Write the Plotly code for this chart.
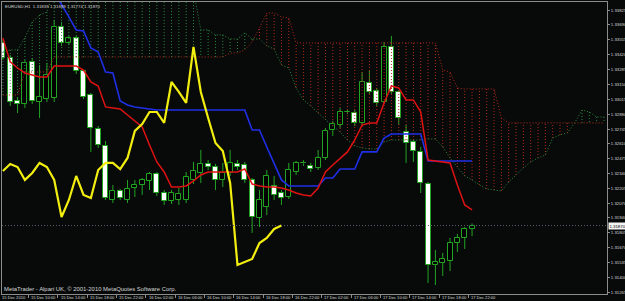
import plotly.graph_objects as go

# ---------------- data (EURUSD H1) ----------------
opens = [1.33526, 1.33390, 1.33000, 1.32973, 1.33354, 1.32991, 1.33018, 1.33027, 1.33671, 1.33526,
         1.33571, 1.33272, 1.33054, 1.32746, 1.32592, 1.32102, 1.32184, 1.32102, 1.32211, 1.32238,
         1.32275, 1.32338, 1.32166, 1.32093, 1.32102, 1.32102, 1.32284, 1.32347, 1.32429, 1.32401,
         1.32284, 1.32347, 1.32429, 1.32420, 1.32284, 1.31939, 1.32039, 1.32229, 1.32166, 1.32129,
         1.32356, 1.32434, 1.32411, 1.32392, 1.32483, 1.32737, 1.32782, 1.32896, 1.32891, 1.32801,
         1.33163, 1.33091, 1.32991, 1.33490, 1.33082, 1.32719, 1.32628, 1.32538, 1.32247, 1.31513,
         1.31531, 1.31549, 1.31712, 1.31758, 1.31839]
highs = [1.33553, 1.33417, 1.33036, 1.33372, 1.33390, 1.33327, 1.33345, 1.33734, 1.33716, 1.33590,
         1.33590, 1.33281, 1.33073, 1.32773, 1.32637, 1.32238, 1.32202, 1.32284, 1.32284, 1.32302,
         1.32356, 1.32356, 1.32193, 1.32193, 1.32211, 1.32356, 1.32447, 1.32556, 1.32465, 1.32429,
         1.32438, 1.32556, 1.32465, 1.32447, 1.32302, 1.32193, 1.32374, 1.32320, 1.32193, 1.32438,
         1.32456, 1.32465, 1.32438, 1.32556, 1.32755, 1.32819, 1.32937, 1.32918, 1.32918, 1.33263,
         1.33281, 1.33118, 1.33535, 1.33590, 1.33100, 1.32782, 1.32646, 1.32583, 1.32265, 1.31649,
         1.31622, 1.31758, 1.31794, 1.31857, 1.31889]
lows = [1.33372, 1.32955, 1.32891, 1.32937, 1.32973, 1.32846, 1.32991, 1.32991, 1.33499, 1.33508,
        1.33245, 1.33018, 1.32538, 1.32574, 1.32102, 1.32075, 1.32102, 1.32075, 1.32129, 1.32148,
        1.32193, 1.32138, 1.32057, 1.32066, 1.32057, 1.32075, 1.32247, 1.32256, 1.32374, 1.32193,
        1.32220, 1.32320, 1.32374, 1.32256, 1.31803, 1.31857, 1.31966, 1.32102, 1.32057, 1.32111,
        1.32329, 1.32411, 1.32356, 1.32374, 1.32465, 1.32683, 1.32755, 1.32882, 1.32773, 1.32782,
        1.33064, 1.32955, 1.32973, 1.33064, 1.32782, 1.32438, 1.32447, 1.32166, 1.31349, 1.31331,
        1.31413, 1.31458, 1.31631, 1.31658, 1.31774]
closes = [1.33390, 1.32991, 1.32973, 1.33345, 1.33000, 1.33036, 1.33236, 1.33671, 1.33526, 1.33571,
          1.33272, 1.33036, 1.32755, 1.32601, 1.32120, 1.32184, 1.32120, 1.32202, 1.32238, 1.32284,
          1.32338, 1.32166, 1.32093, 1.32166, 1.32157, 1.32311, 1.32365, 1.32429, 1.32401, 1.32284,
          1.32347, 1.32438, 1.32401, 1.32284, 1.31948, 1.32102, 1.32320, 1.32148, 1.32120, 1.32374,
          1.32438, 1.32438, 1.32383, 1.32483, 1.32728, 1.32791, 1.32900, 1.32900, 1.32801, 1.33172,
          1.33082, 1.32982, 1.33490, 1.33082, 1.32846, 1.32619, 1.32547, 1.32256, 1.31513, 1.31540,
          1.31567, 1.31712, 1.31758, 1.31839, 1.31870]

tenkan = [1.33571, 1.33354, 1.33299, 1.33254, 1.33236, 1.33218, 1.33218, 1.33317, 1.33317, 1.33317,
          1.33317, 1.33281, 1.33172, 1.33136, 1.32946, 1.32937, 1.32927, 1.32873, 1.32819, 1.32764,
          1.32601, 1.32447, 1.32356, 1.32220, 1.32220, 1.32229, 1.32275, 1.32329, 1.32356, 1.32356,
          1.32356, 1.32356, 1.32356, 1.32383, 1.32247, 1.32229, 1.32220, 1.32220, 1.32211, 1.32193,
          1.32166, 1.32148, 1.32138, 1.32211, 1.32356, 1.32420, 1.32483, 1.32538, 1.32646, 1.32782,
          1.32801, 1.32801, 1.32982, 1.33136, 1.33118, 1.33009, 1.33009, 1.32900, 1.32465, 1.32456,
          1.32447, 1.32438, 1.32238, 1.32057, 1.32012]

kijun = [None, None, None, None, None, None, 1.34097, 1.33988, 1.33870, 1.33762,
         1.33644, 1.33635, 1.33481, 1.33444, 1.33263, 1.33254, 1.33000, 1.32964, 1.32946, 1.32937,
         1.32927, 1.32918, 1.32918, 1.32918, 1.32918, 1.32918, 1.32918, 1.32918, 1.32918, 1.32918,
         1.32918, 1.32918, 1.32918, 1.32918, 1.32737, 1.32737, 1.32583, 1.32429, 1.32284, 1.32229,
         1.32229, 1.32229, 1.32229, 1.32229, 1.32302, 1.32302, 1.32383, 1.32383, 1.32383, 1.32538,
         1.32538, 1.32538, 1.32664, 1.32701, 1.32701, 1.32701, 1.32701, 1.32701, 1.32456, 1.32456,
         1.32456, 1.32456, 1.32456, 1.32456, 1.32456]

span_a = [1.33444, 1.33463, 1.33463, 1.33571, 1.33716, 1.33780, 1.33807, 1.34006, 1.34006, 1.34006,
          1.34006, 1.34006, 1.34006, 1.34006, 1.34006, 1.34006, 1.34006, 1.34006, 1.34006, 1.34006,
          1.34006, 1.34006, 1.34006, 1.34006, 1.34006, 1.34006, 1.34006, 1.33644, 1.33644, 1.33599,
          1.33599, 1.33562, 1.33562, 1.33617, 1.33562, 1.33562, 1.33499, 1.33472, 1.33327, 1.33299,
          1.33118, 1.33009, 1.32955, 1.32891, 1.32828, 1.32773, 1.32719, 1.32646, 1.32592, 1.32574,
          1.32565, 1.32565, 1.32628, 1.32646, 1.32646, 1.32646, 1.32646, 1.32646, 1.32655, 1.32655,
          1.32583, 1.32483, 1.32401, 1.32320, 1.32284, 1.32238, 1.32202, 1.32193, 1.32184, 1.32265,
          1.32329, 1.32392, 1.32447, 1.32483, 1.32510, 1.32664, 1.32692, 1.32710, 1.32801, 1.32918,
          1.32900, 1.32855, 1.32855]
span_b = [1.33054, 1.33054, 1.33054, 1.33263, 1.33263, 1.33263, 1.33263, 1.33399, 1.33399, 1.33399,
          1.33399, 1.33399, 1.33399, 1.33399, 1.33399, 1.33399, 1.33399, 1.33399, 1.33399, 1.33399,
          1.33399, 1.33399, 1.33399, 1.33399, 1.33399, 1.33399, 1.33399, 1.33399, 1.33399, 1.33399,
          1.33399, 1.33435, 1.33435, 1.33463, 1.33535, 1.33662, 1.33798, 1.33798, 1.33762, 1.33753,
          1.33526, 1.33526, 1.33526, 1.33526, 1.33526, 1.33526, 1.33526, 1.33526, 1.33526, 1.33526,
          1.33526, 1.33526, 1.33526, 1.33526, 1.33526, 1.33526, 1.33526, 1.33526, 1.33526, 1.33526,
          1.33281, 1.33263, 1.33118, 1.33109, 1.33109, 1.33109, 1.33109, 1.33109, 1.32846, 1.32801,
          1.32801, 1.32801, 1.32801, 1.32801, 1.32801, 1.32801, 1.32801, 1.32801, 1.32801, 1.32801,
          1.32801, 1.32801, 1.32801]

chikou_shift = 26

y_tick_text = ["1.33825", "1.33690", "1.33555", "1.33420", "1.33285", "1.33150", "1.33015",
               "1.32880", "1.32745", "1.32610", "1.32475", "1.32340", "1.32205", "1.32070",
               "1.31940", "1.31805", "1.31670", "1.31535", "1.31400", "1.31265"]

date_hours = [0, 4, 8, 12, 16, 20, 24, 28, 32, 36, 40, 44, 48, 52, 56, 60, 64]
date_labels = ["15 Dec 2010", "15 Dec 10:00", "15 Dec 14:00", "15 Dec 18:00", "15 Dec 22:00",
               "16 Dec 02:00", "16 Dec 06:00", "16 Dec 10:00", "16 Dec 14:00", "16 Dec 18:00",
               "16 Dec 22:00", "17 Dec 02:00", "17 Dec 06:00", "17 Dec 10:00", "17 Dec 14:00",
               "17 Dec 18:00", "17 Dec 22:00"]

symbol = "EURUSD,H1"
footer = "MetaTrader - Alpari UK, © 2001-2010 MetaQuotes Software Corp."

# ---------------- style ----------------
BG = "#080a0a"
CANDLE = "#22a322"
HATCH_G = "#2a8a40"
HATCH_R = "#b42a1a"
RED = "#e01212"
BLUE = "#1f2fe6"
YELLOW = "#f2ee10"
AXIS = "#8c8c8c"
TXT = "#d6d6d6"
FONT = "Liberation Sans"

fig = go.Figure()

hours = list(range(len(closes)))

# wicks (drawn outside of bodies only)
wx, wy = [], []
for h, o, hi, lo, c in zip(hours, opens, highs, lows, closes):
    top, bot = max(o, c), min(o, c)
    wx += [h, h, None, h, h, None]
    wy += [hi, top, None, bot, lo, None]
fig.add_trace(go.Scatter(x=wx, y=wy, mode="lines", line=dict(color=CANDLE, width=1),
                         hoverinfo="skip"))

# bodies
body_base = [min(o, c) for o, c in zip(opens, closes)]
body_len = [max(abs(c - o), 0.000005) for o, c in zip(opens, closes)]
fills = ["#ffffff" if c < o else "#000000" for o, c in zip(opens, closes)]
fig.add_trace(go.Bar(x=hours, base=body_base, y=body_len, width=0.68,
                     marker=dict(color=fills, line=dict(color=CANDLE, width=1)),
                     hoverinfo="skip"))

# cloud hatch
cloud_hours = list(range(len(span_a)))
gx, gy, rx, ry = [], [], [], []
for h, a, b in zip(cloud_hours, span_a, span_b):
    if a >= b:
        gx += [h, h, None]
        gy += [a, b, None]
    else:
        rx += [h, h, None]
        ry += [a, b, None]
dots = "1px,2px"
fig.add_trace(go.Scatter(x=gx, y=gy, mode="lines", line=dict(color=HATCH_G, width=1, dash=dots),
                         hoverinfo="skip"))
fig.add_trace(go.Scatter(x=rx, y=ry, mode="lines", line=dict(color=HATCH_R, width=1, dash=dots),
                         hoverinfo="skip"))
fig.add_trace(go.Scatter(x=cloud_hours, y=span_a, mode="lines",
                         line=dict(color=HATCH_G, width=1, dash=dots), hoverinfo="skip"))
fig.add_trace(go.Scatter(x=cloud_hours, y=span_b, mode="lines",
                         line=dict(color=HATCH_R, width=1, dash=dots), hoverinfo="skip"))

# kijun, tenkan, chikou
fig.add_trace(go.Scatter(x=hours, y=kijun, mode="lines", line=dict(color=BLUE, width=1.6),
                         hoverinfo="skip"))
fig.add_trace(go.Scatter(x=hours, y=tenkan, mode="lines", line=dict(color=RED, width=1.5),
                         hoverinfo="skip"))
chikou = closes[chikou_shift:]
fig.add_trace(go.Scatter(x=hours[:len(chikou)], y=chikou, mode="lines",
                         line=dict(color=YELLOW, width=2.2), hoverinfo="skip"))

# bid line
fig.add_shape(type="line", xref="paper", x0=0, x1=1, y0=closes[-1], y1=closes[-1],
              line=dict(color="#5c5e6c", width=1, dash=dots), layer="above")

annotations = []
for h, lab in zip(date_hours, date_labels):
    annotations.append(dict(x=h, y=-0.013, xref="x", yref="paper", text=lab, xshift=-2,
                            showarrow=False, xanchor="left", yanchor="middle",
                            font=dict(family=FONT, size=4.1, color=TXT), borderpad=0))
annotations.append(dict(x=0, y=1, xref="paper", yref="paper", xshift=2, yshift=-0.5,
                        text=f"{symbol}  {opens[-1]:.5f} {highs[-1]:.5f} {lows[-1]:.5f} {closes[-1]:.5f}",
                        showarrow=False, xanchor="left", yanchor="top",
                        font=dict(family=FONT, size=4.4, color=TXT), borderpad=0))
annotations.append(dict(x=0, y=0, xref="paper", yref="paper", xshift=1, yshift=1.5,
                        text=footer, showarrow=False, xanchor="left", yanchor="bottom",
                        font=dict(family=FONT, size=5.9, color=TXT), borderpad=0))
annotations.append(dict(x=1, y=closes[-1], xref="paper", yref="y", xshift=0.5,
                        text=f"{closes[-1]:.5f}", showarrow=False, xanchor="left",
                        yanchor="middle", bgcolor="#f4f4f4",
                        font=dict(family=FONT, size=4.3, color="#000000"), borderpad=0.5))

fig.update_layout(
    template="none",
    width=625, height=301,
    margin=dict(l=2, r=18, t=2, b=7),
    paper_bgcolor=BG, plot_bgcolor=BG,
    showlegend=False, bargap=0,
    annotations=annotations,
)
fig.update_xaxes(range=[-0.123, 82.41], showgrid=False, zeroline=False, showline=True,
                 mirror=True, linecolor=AXIS, linewidth=1,
                 tickvals=[h - 0.5 for h in date_hours], ticks="outside", ticklen=3,
                 tickcolor=AXIS, showticklabels=False, automargin=False, fixedrange=True)
fig.update_yaxes(range=[1.312494, 1.338976], side="right", showgrid=False, zeroline=False,
                 showline=True, mirror=True, linecolor=AXIS, linewidth=1,
                 tickvals=[float(t) for t in y_tick_text], ticktext=y_tick_text,
                 ticks="outside", ticklen=2, tickcolor=AXIS,
                 tickfont=dict(family=FONT, size=4.3, color=TXT), automargin=False,
                 fixedrange=True)

fig.write_html("out.html")
